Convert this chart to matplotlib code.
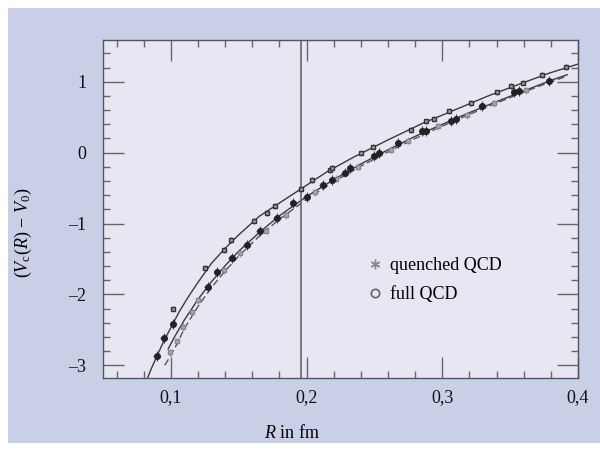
import numpy as np
import matplotlib.pyplot as plt
from matplotlib.lines import Line2D
from matplotlib.patches import Rectangle
from matplotlib.ticker import MultipleLocator, FuncFormatter

plt.rcParams['font.family'] = ['Liberation Serif', 'DejaVu Serif']
plt.rcParams['mathtext.fontset'] = 'custom'
plt.rcParams['mathtext.rm'] = 'Liberation Serif'
plt.rcParams['mathtext.it'] = 'Liberation Serif:italic'

# curves
r_quench_fit = [0.083, 0.086, 0.09, 0.095, 0.10, 0.106, 0.113, 0.12, 0.13, 0.14, 0.15,
                0.165, 0.18, 0.196, 0.215, 0.235, 0.26, 0.285, 0.31, 0.335, 0.36, 0.38, 0.40]
v_quench_fit = [-3.17, -3.03, -2.86, -2.65, -2.47, -2.25, -2.03, -1.83, -1.56, -1.35, -1.16,
                -0.90, -0.71, -0.51, -0.27, -0.06, 0.18, 0.41, 0.61, 0.81, 0.99, 1.13, 1.25]

r_full_fit = [0.098, 0.103, 0.11, 0.12, 0.13, 0.14, 0.15, 0.165, 0.18, 0.20, 0.22, 0.24,
              0.26, 0.28, 0.30, 0.32, 0.34, 0.36, 0.38, 0.392]
v_full_fit = [-2.77, -2.59, -2.36, -2.07, -1.82, -1.595, -1.39, -1.13, -0.89, -0.62, -0.38, -0.16,
              0.04, 0.23, 0.40, 0.565, 0.72, 0.87, 1.02, 1.10]

r_full_fit2 = [0.0955, 0.10, 0.105, 0.11, 0.12, 0.13, 0.14, 0.15, 0.165, 0.18, 0.20, 0.22, 0.24,
               0.26, 0.28, 0.30, 0.32, 0.34, 0.36, 0.38, 0.392]
v_full_fit2 = [-3.00, -2.86, -2.68, -2.48, -2.17, -1.90, -1.67, -1.46, -1.18, -0.94, -0.66, -0.41, -0.19,
               0.01, 0.20, 0.375, 0.54, 0.70, 0.855, 1.00, 1.08]

# data points
r_quench = [0.1015, 0.125, 0.139, 0.144, 0.161, 0.1706, 0.177, 0.196, 0.2037, 0.217, 0.219, 0.240,
            0.249, 0.277, 0.288, 0.294, 0.305, 0.321, 0.340, 0.351, 0.3596, 0.3735, 0.391]
v_quench = [-2.20, -1.63, -1.37, -1.23, -0.96, -0.85, -0.75, -0.51, -0.39, -0.24, -0.22, -0.01,
            0.085, 0.32, 0.44, 0.48, 0.59, 0.70, 0.85, 0.94, 0.99, 1.10, 1.21]

r_quench2 = [0.0993, 0.1042, 0.1088, 0.1154, 0.120, 0.139, 0.151, 0.170, 0.185, 0.206, 0.222,
             0.238, 0.262, 0.275, 0.297, 0.318, 0.338, 0.362]
v_quench2 = [-2.82, -2.66, -2.46, -2.25, -2.08, -1.66, -1.42, -1.10, -0.88, -0.56, -0.37,
             -0.20, 0.04, 0.17, 0.37, 0.53, 0.70, 0.88]

r_full = [0.0897, 0.0948, 0.1015, 0.127, 0.134, 0.1448, 0.156, 0.1654, 0.178, 0.19, 0.2, 0.2118,
          0.219, 0.228, 0.232, 0.25, 0.2537, 0.2676, 0.285, 0.288, 0.3066, 0.31, 0.329, 0.353,
          0.3566, 0.379]
v_full = [-2.87, -2.61, -2.42, -1.89, -1.69, -1.49, -1.30, -1.10, -0.92, -0.71, -0.62, -0.45,
          -0.38, -0.28, -0.21, -0.05, 0.0, 0.14, 0.30, 0.31, 0.45, 0.48, 0.66, 0.85, 0.87, 1.01]

r_line = 0.196

fig = plt.figure(figsize=(6, 4.53), dpi=100)
fig.patch.set_facecolor('white')
fig.patches.append(Rectangle((8/600, 10/453), 592/600, 435/453, transform=fig.transFigure,
                             facecolor='#cacfe8', edgecolor='none', zorder=-10))

ax = fig.add_axes([103/600, 75/453, 475/600, 338/453])
ax.set_facecolor('#e6e7f3')

lc = '#3a3a3a'
ax.plot(r_quench_fit, v_quench_fit, color=lc, lw=1.0)
ax.plot(r_full_fit, v_full_fit, color=lc, lw=1.0)
ax.plot(r_full_fit2, v_full_fit2, color='#555555', lw=1.0, dashes=(5, 2.5))

ax.errorbar(r_quench2, v_quench2, yerr=0.05, fmt='s', ms=2.2, mfc='#aaaaaa', mec='#888888',
            ecolor='#888888', elinewidth=0.6, capsize=0, zorder=3)
ax.errorbar(r_quench, v_quench, yerr=0.04, fmt='s', ms=3, mfc='#999999', mec='#333333',
            ecolor='#555555', elinewidth=0.7, capsize=0, zorder=4)
ax.errorbar(r_full, v_full, yerr=0.07, xerr=0.0025, fmt='o', ms=4, mfc='#222222', mec='#222222',
            ecolor='#444444', elinewidth=0.8, capsize=0, zorder=5)

ax.axvline(r_line, color='#666666', lw=1.2, zorder=2)

ax.set_xlim(0.05, 0.4)
ax.set_ylim(-3.18, 1.59)

ax.xaxis.set_major_locator(MultipleLocator(0.1))
ax.xaxis.set_minor_locator(MultipleLocator(0.02))
ax.yaxis.set_major_locator(MultipleLocator(1))
ax.yaxis.set_minor_locator(MultipleLocator(0.2))
ax.xaxis.set_major_formatter(FuncFormatter(lambda v, p: ('%.1f' % v).replace('.', ',')))
ax.yaxis.set_major_formatter(FuncFormatter(lambda v, p: '%d' % v if v >= 0 else '\u2013%d' % -v))

ax.tick_params(which='both', direction='in', top=True, right=True, color='#666666',
               labelsize=13, labelcolor='#111111')
ax.tick_params(which='major', length=15, width=1.0, pad=8)
ax.tick_params(which='minor', length=5, width=1.0)
ax.tick_params(axis='y', which='major', pad=12)
for s in ax.spines.values():
    s.set_color('#555555')
    s.set_linewidth(1.0)

ax.set_xlabel(r'$\it{R}$ in fm', fontsize=13)
ax.xaxis.set_label_coords(0.398, -0.135)
ax.set_ylabel(r'$(V_{\rm c}(R)\,-\,V_0)$', fontsize=13)
ax.yaxis.set_label_coords(-0.145, 0.43)

handles = [Line2D([], [], ls='none', marker=(6, 2, 0), ms=7, mec='#888888', mew=1.0),
           Line2D([], [], ls='none', marker='o', ms=6, mfc='none', mec='#666666', mew=1.2)]
ax.legend(handles, ['quenched QCD', 'full QCD'], loc='center left', bbox_to_anchor=(0.52, 0.29),
          frameon=False, fontsize=13, handlelength=1.0, handletextpad=0.3, labelspacing=0.65)

fig.savefig('out.png', dpi=100)
